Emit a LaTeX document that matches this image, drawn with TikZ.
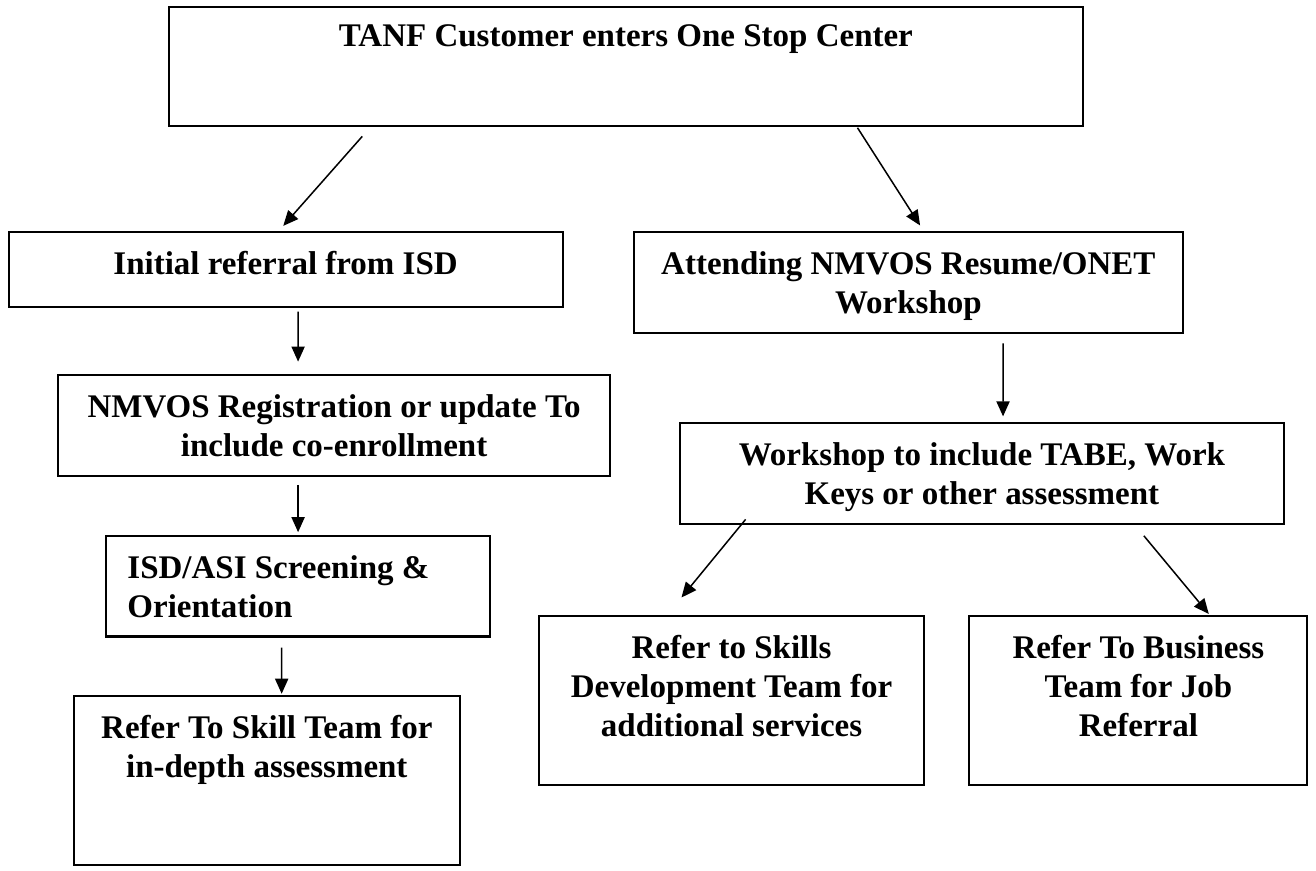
\documentclass[tikz,border=0pt]{standalone}
\usepackage{fontspec}
\setmainfont{Liberation Serif}
\usetikzlibrary{positioning, arrows.meta}
\tikzstyle{stepbox} = [rectangle, draw=black, line width=0.75pt, inner sep=0pt]
\tikzstyle{steptext} = [font=\bfseries\fontsize{12}{14.2}\selectfont, align=center, inner sep=0pt]
\tikzstyle{arrow} = [line width=0.55pt, -{Triangle[length=5.5pt,width=4.8pt]}]

\begin{document}
\begin{tikzpicture}
\useasboundingbox (0,0) rectangle (16.82,-11.13);

% entry
\node (tanf) [stepbox, minimum width=11.68cm, minimum height=1.52cm] at (8.00,-0.85) {};
\node (tanfText) [steptext, below=0.23cm of tanf.north] {TANF Customer enters One Stop Center};

% left branch
\node (init) [stepbox, minimum width=7.08cm, minimum height=0.96cm] at (3.65,-3.44) {};
\node (initText) [steptext, below=0.26cm of init.north] {Initial referral from ISD};
\node (nmvos) [stepbox, minimum width=7.05cm, minimum height=1.29cm] at (4.27,-5.44) {};
\node (nmvosText) [steptext, below=0.26cm of nmvos.north] {NMVOS Registration or update To\\include co-enrollment};
\node (screen) [stepbox, minimum width=4.91cm, minimum height=1.29cm] at (3.81,-7.49) {};
\node (screenText) [steptext, align=left, below right=0.26cm and 0.28cm of screen.north west] {ISD/ASI Screening \&\\Orientation};
\node (skill) [stepbox, minimum width=4.93cm, minimum height=2.16cm] at (3.41,-9.97) {};
\node (skillText) [steptext, below=0.26cm of skill.north] {Refer To Skill Team for\\in-depth assessment};

% right branch
\node (attend) [stepbox, minimum width=7.02cm, minimum height=1.29cm] at (11.61,-3.61) {};
\node (attendText) [steptext, below=0.26cm of attend.north] {Attending NMVOS Resume/ONET\\Workshop};
\node (wkshop) [stepbox, minimum width=7.71cm, minimum height=1.29cm] at (12.55,-6.05) {};
\node (wkshopText) [steptext, below=0.26cm of wkshop.north] {Workshop to include TABE, Work\\Keys or other assessment};
\node (devteam) [stepbox, minimum width=4.93cm, minimum height=2.16cm] at (9.35,-8.95) {};
\node (devteamText) [steptext, below=0.26cm of devteam.north] {Refer to Skills\\Development Team for\\additional services};
\node (business) [stepbox, minimum width=4.32cm, minimum height=2.16cm] at (14.55,-8.95) {};
\node (businessText) [steptext, below=0.26cm of business.north] {Refer To Business\\Team for Job\\Referral};

\draw [arrow] ([xshift=-3.37cm,yshift=-0.12cm]tanf.south) -- ([xshift=-0.03cm,yshift=0.06cm]init.north);
\draw [arrow] ([xshift=2.96cm,yshift=-0.01cm]tanf.south) -- ([xshift=0.15cm,yshift=0.07cm]attend.north);
\draw [arrow] ([xshift=0.16cm,yshift=-0.05cm]init.south) -- ([xshift=-0.46cm,yshift=0.16cm]nmvos.north);
\draw [arrow] ([xshift=-0.46cm,yshift=-0.10cm]nmvos.south) -- ([yshift=0.03cm]screen.north);
\draw [arrow] ([xshift=-0.21cm,yshift=-0.13cm]screen.south) -- ([xshift=0.19cm,yshift=0.01cm]skill.north);
\draw [arrow] ([xshift=1.21cm,yshift=-0.12cm]attend.south) -- ([xshift=0.27cm,yshift=0.07cm]wkshop.north);
\draw [arrow] ([xshift=-3.02cm,yshift=0.07cm]wkshop.south) -- ([xshift=-0.64cm,yshift=0.22cm]devteam.north);
\draw [arrow] ([xshift=2.07cm,yshift=-0.14cm]wkshop.south) -- ([xshift=0.90cm,yshift=0.01cm]business.north);
\end{tikzpicture}
\end{document}
